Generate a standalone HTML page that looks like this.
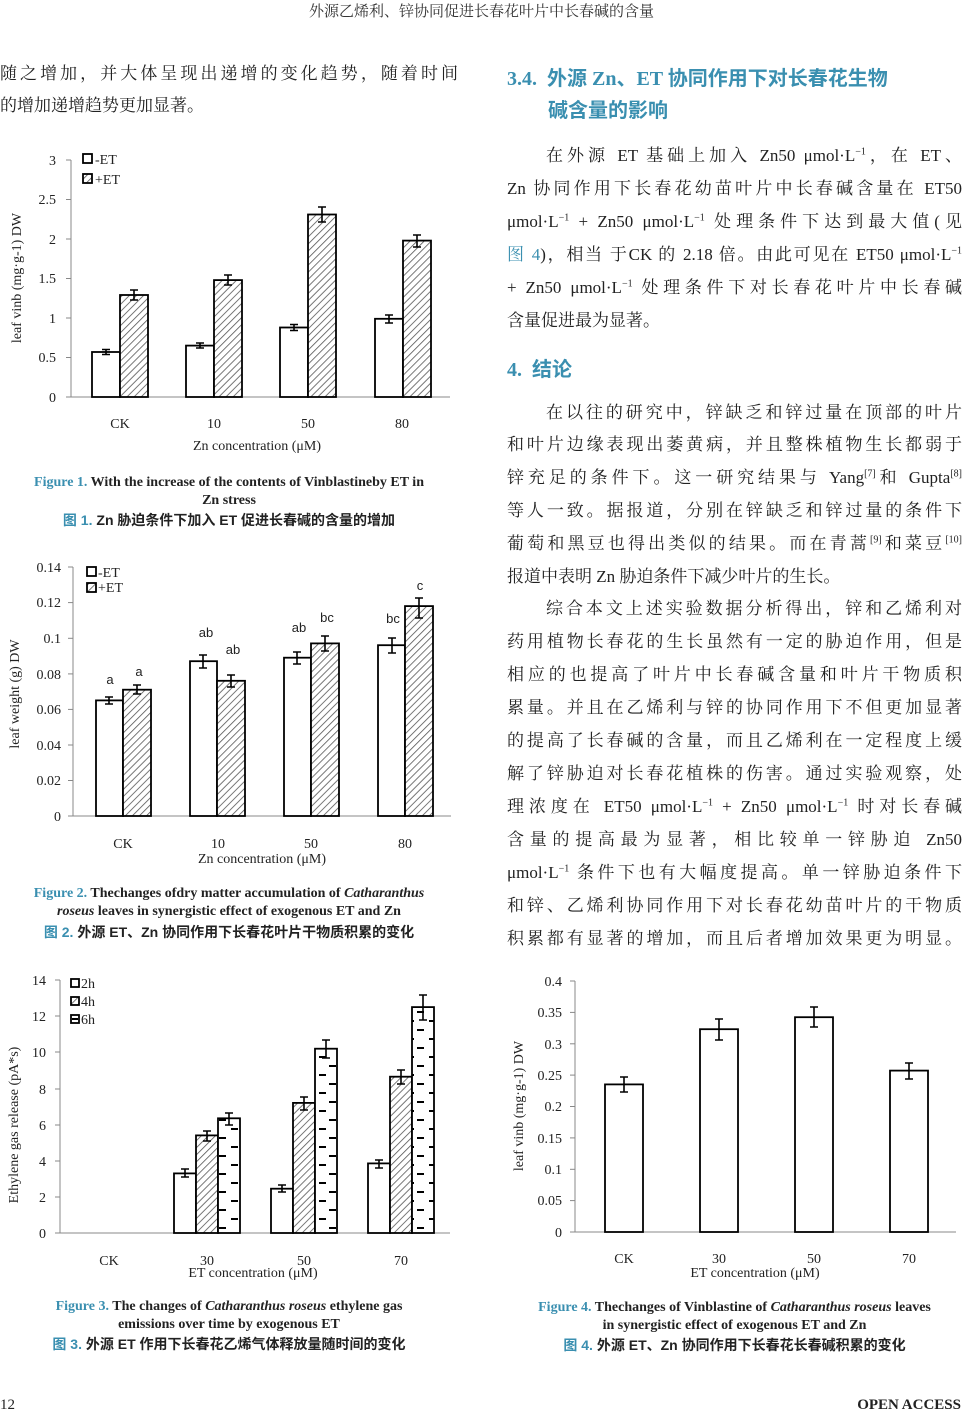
<!DOCTYPE html>
<html><head><meta charset="utf-8"><style>
body{margin:0;background:#fff;}
#p{position:relative;width:963px;height:1412px;overflow:hidden;font-family:"Liberation Serif","Noto Serif CJK SC",serif;color:#222;}
.t{position:absolute;font-size:17px;white-space:nowrap;line-height:20px;}
.j{position:absolute;font-size:17px;line-height:20px;text-align:justify;text-align-last:justify;white-space:nowrap;}
.cap{position:absolute;font-size:14px;font-weight:bold;text-align:center;line-height:18px;white-space:nowrap;}
.cz{font-family:"Liberation Sans","Noto Sans CJK SC",sans-serif;}
.b{color:#3a8fb0;}
.h{position:absolute;font-family:"Liberation Serif","Noto Sans CJK SC",sans-serif;font-weight:bold;color:#3a8fb0;font-size:20px;white-space:nowrap;}
sup{font-size:10px;line-height:0;}
svg{position:absolute;left:0;top:0;}
</style></head><body><div id="p">
<div class="t" style="left:0;width:963px;text-align:center;top:2px;font-size:15px;color:#333">外源乙烯利、锌协同促进长春花叶片中长春碱的含量</div>

<div class="j" style="left:0;width:458px;top:64px">随之增加，并大体呈现出递增的变化趋势，随着时间</div>
<div class="t" style="left:0;top:96px">的增加递增趋势更加显著。</div>

<div class="h" style="left:507px;top:62px">3.4.&nbsp; 外源 Zn、ET 协同作用下对长春花生物</div>
<div class="h" style="left:548px;top:94px">碱含量的影响</div>
<div class="j" style="left:546px;width:416px;top:146px">在外源 ET 基础上加入 Zn50 μmol·L<sup>−1</sup>，在 ET、</div>
<div class="j" style="left:507px;width:455px;top:179px">Zn 协同作用下长春花幼苗叶片中长春碱含量在 ET50</div>
<div class="j" style="left:507px;width:455px;top:212px">μmol·L<sup>−1</sup> + Zn50 μmol·L<sup>−1</sup> 处理条件下达到最大值(见</div>
<div class="j" style="left:507px;width:455px;top:245px"><span class="b">图 4</span>)，相当 于CK 的 2.18 倍。由此可见在 ET50 μmol·L<sup>−1</sup></div>
<div class="j" style="left:507px;width:455px;top:278px">+ Zn50 μmol·L<sup>−1</sup> 处理条件下对长春花叶片中长春碱</div>
<div class="t" style="left:507px;top:311px">含量促进最为显著。</div>
<div class="h" style="left:507px;top:353px">4.&nbsp; 结论</div>
<div class="j" style="left:546px;width:416px;top:403px">在以往的研究中，锌缺乏和锌过量在顶部的叶片</div>
<div class="j" style="left:507px;width:455px;top:435px">和叶片边缘表现出萎黄病，并且整株植物生长都弱于</div>
<div class="j" style="left:507px;width:455px;top:468px">锌充足的条件下。这一研究结果与 Yang<sup>[7]</sup>和 Gupta<sup>[8]</sup></div>
<div class="j" style="left:507px;width:455px;top:501px">等人一致。据报道，分别在锌缺乏和锌过量的条件下</div>
<div class="j" style="left:507px;width:455px;top:534px">葡萄和黑豆也得出类似的结果。而在青蒿<sup>[9]</sup>和菜豆<sup>[10]</sup></div>
<div class="t" style="left:507px;top:567px">报道中表明 Zn 胁迫条件下减少叶片的生长。</div>
<div class="j" style="left:546px;width:416px;top:599px">综合本文上述实验数据分析得出，锌和乙烯利对</div>
<div class="j" style="left:507px;width:455px;top:632px">药用植物长春花的生长虽然有一定的胁迫作用，但是</div>
<div class="j" style="left:507px;width:455px;top:665px">相应的也提高了叶片中长春碱含量和叶片干物质积</div>
<div class="j" style="left:507px;width:455px;top:698px">累量。并且在乙烯利与锌的协同作用下不但更加显著</div>
<div class="j" style="left:507px;width:455px;top:731px">的提高了长春碱的含量，而且乙烯利在一定程度上缓</div>
<div class="j" style="left:507px;width:455px;top:764px">解了锌胁迫对长春花植株的伤害。通过实验观察，处</div>
<div class="j" style="left:507px;width:455px;top:797px">理浓度在 ET50 μmol·L<sup>−1</sup> + Zn50 μmol·L<sup>−1</sup> 时对长春碱</div>
<div class="j" style="left:507px;width:455px;top:830px">含量的提高最为显著，相比较单一锌胁迫 Zn50</div>
<div class="j" style="left:507px;width:455px;top:863px">μmol·L<sup>−1</sup> 条件下也有大幅度提高。单一锌胁迫条件下</div>
<div class="j" style="left:507px;width:455px;top:896px">和锌、乙烯利协同作用下对长春花幼苗叶片的干物质</div>
<div class="j" style="left:507px;width:455px;top:929px">积累都有显著的增加，而且后者增加效果更为明显。</div>

<div class="cap" style="left:0;width:458px;top:474px"><span class="b">Figure 1.</span> With the increase of the contents of Vinblastineby ET in</div>
<div class="cap" style="left:0;width:458px;top:492px">Zn stress</div>
<div class="cap cz" style="left:0;width:458px;top:511px"><span class="b">图 1.</span> Zn 胁迫条件下加入 ET 促进长春碱的含量的增加</div>

<div class="cap" style="left:0;width:458px;top:885px"><span class="b">Figure 2.</span> Thechanges ofdry matter accumulation of <i>Catharanthus</i></div>
<div class="cap" style="left:0;width:458px;top:903px"><i>roseus</i> leaves in synergistic effect of exogenous ET and Zn</div>
<div class="cap cz" style="left:0;width:458px;top:923px"><span class="b">图 2.</span> 外源 ET、Zn 协同作用下长春花叶片干物质积累的变化</div>

<div class="cap" style="left:0;width:458px;top:1298px"><span class="b">Figure 3.</span> The changes of <i>Catharanthus roseus</i> ethylene gas</div>
<div class="cap" style="left:0;width:458px;top:1316px">emissions over time by exogenous ET</div>
<div class="cap cz" style="left:0;width:458px;top:1335px"><span class="b">图 3.</span> 外源 ET 作用下长春花乙烯气体释放量随时间的变化</div>

<div class="cap" style="left:507px;width:455px;top:1299px"><span class="b">Figure 4.</span> Thechanges of Vinblastine of <i>Catharanthus roseus</i> leaves</div>
<div class="cap" style="left:507px;width:455px;top:1317px">in synergistic effect of exogenous ET and Zn</div>
<div class="cap cz" style="left:507px;width:455px;top:1336px"><span class="b">图 4.</span> 外源 ET、Zn 协同作用下长春花长春碱积累的变化</div>

<div class="t" style="left:0;top:1395px;font-size:15px">12</div>
<div class="t" style="right:2px;top:1395px;font-size:15px;font-weight:bold">OPEN ACCESS</div>

<svg width="963" height="1412" font-family="Liberation Serif,serif" font-size="14" fill="#222">
<defs>
<pattern id="hz" width="5" height="5" patternUnits="userSpaceOnUse" patternTransform="rotate(45)"><rect width="5" height="5" fill="#fff"/><line x1="0" y1="0" x2="0" y2="5" stroke="#555" stroke-width="1.6"/></pattern>
<pattern id="ds" width="22" height="18" patternUnits="userSpaceOnUse" x="218"><rect width="22" height="18" fill="#fff"/><rect x="1" y="3" width="7" height="2" fill="#000"/><rect x="13" y="12" width="7" height="2" fill="#000"/></pattern>
<pattern id="ds2" width="8" height="8" patternUnits="userSpaceOnUse" x="71" y="1015"><rect width="8" height="8" fill="#fff"/><rect x="1" y="3" width="6" height="2" fill="#000"/></pattern>
</defs>
<g stroke="#888" stroke-width="1">
<line x1="71" y1="160" x2="71" y2="397"/><line x1="71" y1="397" x2="450" y2="397"/>
<line x1="66" y1="160" x2="71" y2="160"/><line x1="66" y1="199.5" x2="71" y2="199.5"/><line x1="66" y1="239" x2="71" y2="239"/><line x1="66" y1="278.5" x2="71" y2="278.5"/><line x1="66" y1="318" x2="71" y2="318"/><line x1="66" y1="357.5" x2="71" y2="357.5"/><line x1="66" y1="397" x2="71" y2="397"/>
<line x1="73" y1="567" x2="73" y2="816"/><line x1="73" y1="816" x2="451" y2="816"/>
<line x1="68" y1="567" x2="73" y2="567"/><line x1="68" y1="602.6" x2="73" y2="602.6"/><line x1="68" y1="638.3" x2="73" y2="638.3"/><line x1="68" y1="673.9" x2="73" y2="673.9"/><line x1="68" y1="709.4" x2="73" y2="709.4"/><line x1="68" y1="745" x2="73" y2="745"/><line x1="68" y1="780.5" x2="73" y2="780.5"/><line x1="68" y1="816" x2="73" y2="816"/>
<line x1="60" y1="980" x2="60" y2="1233"/><line x1="60" y1="1233" x2="450" y2="1233"/>
<line x1="55" y1="980" x2="60" y2="980"/><line x1="55" y1="1016" x2="60" y2="1016"/><line x1="55" y1="1052" x2="60" y2="1052"/><line x1="55" y1="1089" x2="60" y2="1089"/><line x1="55" y1="1125" x2="60" y2="1125"/><line x1="55" y1="1161" x2="60" y2="1161"/><line x1="55" y1="1197" x2="60" y2="1197"/><line x1="55" y1="1233" x2="60" y2="1233"/>
<line x1="575" y1="981" x2="575" y2="1232"/><line x1="575" y1="1232" x2="956" y2="1232"/>
<line x1="570" y1="981" x2="575" y2="981"/><line x1="570" y1="1012.4" x2="575" y2="1012.4"/><line x1="570" y1="1043.8" x2="575" y2="1043.8"/><line x1="570" y1="1075.1" x2="575" y2="1075.1"/><line x1="570" y1="1106.5" x2="575" y2="1106.5"/><line x1="570" y1="1137.9" x2="575" y2="1137.9"/><line x1="570" y1="1169.3" x2="575" y2="1169.3"/><line x1="570" y1="1200.6" x2="575" y2="1200.6"/><line x1="570" y1="1232" x2="575" y2="1232"/>
</g>
<g stroke="#000" stroke-width="1.8">
<rect x="92" y="352" width="28" height="45" fill="#fff"/><rect x="120" y="295" width="28" height="102" fill="url(#hz)"/>
<rect x="186" y="345.6" width="28" height="51.4" fill="#fff"/><rect x="214" y="280.1" width="28" height="116.9" fill="url(#hz)"/>
<rect x="280" y="327.5" width="28" height="69.5" fill="#fff"/><rect x="308" y="214.5" width="28" height="182.5" fill="url(#hz)"/>
<rect x="375" y="318.8" width="28" height="78.2" fill="#fff"/><rect x="403" y="240.6" width="28" height="156.4" fill="url(#hz)"/>
<rect x="96" y="700.4" width="27" height="115.6" fill="#fff"/><rect x="123" y="689.7" width="28" height="126.3" fill="url(#hz)"/>
<rect x="190" y="661.2" width="27" height="154.8" fill="#fff"/><rect x="217" y="680.8" width="28" height="135.2" fill="url(#hz)"/>
<rect x="284" y="657.7" width="27" height="158.3" fill="#fff"/><rect x="311" y="643.4" width="28" height="172.6" fill="url(#hz)"/>
<rect x="378" y="645.2" width="27" height="170.8" fill="#fff"/><rect x="405" y="606.1" width="28" height="209.9" fill="url(#hz)"/>
<rect x="174" y="1173.4" width="22" height="59.6" fill="#fff"/><rect x="196" y="1135.4" width="22" height="97.6" fill="url(#hz)"/><rect x="218" y="1118.3" width="22" height="114.7" fill="url(#ds)"/>
<rect x="271" y="1188.7" width="22" height="44.3" fill="#fff"/><rect x="293" y="1102.9" width="22" height="130.1" fill="url(#hz)"/><rect x="315" y="1048.7" width="22" height="184.3" fill="url(#ds)"/>
<rect x="368" y="1163.4" width="22" height="69.6" fill="#fff"/><rect x="390" y="1076.7" width="22" height="156.3" fill="url(#hz)"/><rect x="412" y="1007.1" width="22" height="225.9" fill="url(#ds)"/>
<rect x="605" y="1084.4" width="38" height="147.6" fill="#fff"/>
<rect x="700" y="1029.2" width="38" height="202.8" fill="#fff"/>
<rect x="795" y="1017.2" width="38" height="214.8" fill="#fff"/>
<rect x="890" y="1070.6" width="38" height="161.4" fill="#fff"/>
<rect x="83" y="154" width="9" height="9" fill="#fff"/><rect x="83" y="174" width="9" height="9" fill="url(#hz)"/>
<rect x="87" y="567" width="9" height="9" fill="#fff"/><rect x="87" y="583" width="9" height="9" fill="url(#hz)"/>
<rect x="71" y="979" width="8" height="8" fill="#fff"/><rect x="71" y="997" width="8" height="8" fill="url(#hz)"/><rect x="71" y="1015" width="8" height="8" fill="url(#ds2)"/>
</g>
<g stroke="#000" stroke-width="1.6" fill="none">
<path d="M106 349.5v5M102 349.5h8M102 354.5h8 M134 290v10M130 290h8M130 300h8
M200 343v5M196 343h8M196 348h8 M228 275v10M224 275h8M224 285h8
M294 324.5v6M290 324.5h8M290 330.5h8 M322 207v15M318 207h8M318 222h8
M389 315v8M385 315h8M385 323h8 M417 235v12M413 235h8M413 247h8
M109 697v7M105 697h8M105 704h8 M137 685v9M133 685h8M133 694h8
M203 655v13M199 655h8M199 668h8 M231 675v12M227 675h8M227 687h8
M297 652v12M293 652h8M293 664h8 M325 636v15M321 636h8M321 651h8
M392 638v15M388 638h8M388 653h8 M419 598v20M415 598h8M415 618h8
M185 1169v8M181 1169h8M181 1177h8 M207 1131v10M203 1131h8M203 1141h8 M229 1113v12M225 1113h8M225 1125h8
M282 1185v7M278 1185h8M278 1192h8 M304 1097v13M300 1097h8M300 1110h8 M326 1040v18M322 1040h8M322 1058h8
M379 1160v8M375 1160h8M375 1168h8 M401 1070v14M397 1070h8M397 1084h8 M423 995v25M419 995h8M419 1020h8
M624 1077v15M620 1077h8M620 1092h8 M719 1019v21M715 1019h8M715 1040h8 M814 1007v20M810 1007h8M810 1027h8 M909 1063v16M905 1063h8M905 1079h8"/>
</g>
<g text-anchor="end" font-size="14">
<text x="56" y="165">3</text><text x="56" y="204">2.5</text><text x="56" y="244">2</text><text x="56" y="283">1.5</text><text x="56" y="323">1</text><text x="56" y="362">0.5</text><text x="56" y="402">0</text>
<text x="61" y="572">0.14</text><text x="61" y="607">0.12</text><text x="61" y="643">0.1</text><text x="61" y="679">0.08</text><text x="61" y="714">0.06</text><text x="61" y="750">0.04</text><text x="61" y="785">0.02</text><text x="61" y="821">0</text>
<text x="46" y="985">14</text><text x="46" y="1021">12</text><text x="46" y="1057">10</text><text x="46" y="1094">8</text><text x="46" y="1130">6</text><text x="46" y="1166">4</text><text x="46" y="1202">2</text><text x="46" y="1238">0</text>
<text x="562" y="986">0.4</text><text x="562" y="1017">0.35</text><text x="562" y="1049">0.3</text><text x="562" y="1080">0.25</text><text x="562" y="1111">0.2</text><text x="562" y="1143">0.15</text><text x="562" y="1174">0.1</text><text x="562" y="1205">0.05</text><text x="562" y="1237">0</text>
</g>
<g text-anchor="middle" font-size="14">
<text x="120" y="428">CK</text><text x="214" y="428">10</text><text x="308" y="428">50</text><text x="402" y="428">80</text>
<text x="257" y="450">Zn concentration (μM)</text>
<text x="123" y="848">CK</text><text x="218" y="848">10</text><text x="311" y="848">50</text><text x="405" y="848">80</text>
<text x="262" y="863">Zn concentration (μM)</text>
<text x="109" y="1265">CK</text><text x="207" y="1265">30</text><text x="304" y="1265">50</text><text x="401" y="1265">70</text>
<text x="253" y="1277">ET concentration (μM)</text>
<text x="624" y="1263">CK</text><text x="719" y="1263">30</text><text x="814" y="1263">50</text><text x="909" y="1263">70</text>
<text x="755" y="1277">ET concentration (μM)</text>
</g>
<g font-size="14">
<text x="95" y="164">-ET</text><text x="95" y="184">+ET</text>
<text x="98" y="577">-ET</text><text x="98" y="592">+ET</text>
<text x="81" y="988">2h</text><text x="81" y="1006">4h</text><text x="81" y="1024">6h</text>
</g>
<g font-family="Liberation Sans,sans-serif" font-size="13" text-anchor="middle">
<text x="110" y="684">a</text><text x="139" y="676">a</text><text x="206" y="637">ab</text><text x="233" y="654">ab</text><text x="299" y="632">ab</text><text x="327" y="622">bc</text><text x="393" y="623">bc</text><text x="420" y="590">c</text>
</g>
<g text-anchor="middle" font-size="14">
<text transform="translate(21,278) rotate(-90)">leaf vinb (mg·g-1) DW</text>
<text transform="translate(19,694) rotate(-90)">leaf weight (g) DW</text>
<text transform="translate(18,1125) rotate(-90)">Ethylene gas release (pA*s)</text>
<text transform="translate(523,1106) rotate(-90)">leaf vinb (mg·g-1) DW</text>
</g>
</svg>
</div></body></html>
